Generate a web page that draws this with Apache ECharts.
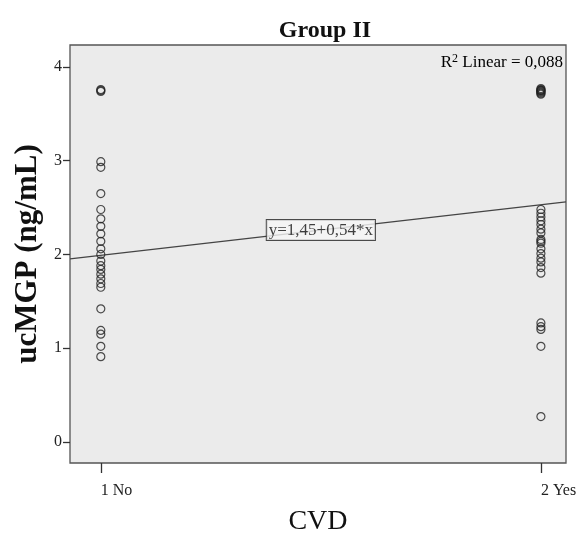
<!DOCTYPE html>
<html>
<head>
<meta charset="utf-8">
<script src="https://cdn.jsdelivr.net/npm/echarts@6/dist/echarts.min.js"></script>
<style>
  html, body { margin: 0; padding: 0; background: #fff; }
  #chart { width: 578px; height: 536px; }
</style>
</head>
<body>
<div id="chart"></div>
<script>
"use strict";

// ucMGP values, CVD = 1 (No)
var noValues = [3.76, 3.75, 3.74, 2.99, 2.93, 2.65, 2.48, 2.38, 2.30, 2.22, 2.14, 2.06, 2.00,
  1.93, 1.88, 1.84, 1.79, 1.74, 1.69, 1.65, 1.42, 1.19, 1.15, 1.02, 0.91];
// ucMGP values, CVD = 2 (Yes)
var yesValues = [3.77, 3.76, 3.75, 3.75, 3.74, 3.73, 3.72, 3.71, 2.48, 2.44, 2.40, 2.36, 2.32,
  2.27, 2.23, 2.16, 2.14, 2.12, 2.06, 2.01, 1.96, 1.92, 1.86, 1.80, 1.27, 1.23, 1.20, 1.02, 0.27];

var xTickLabels = { 1: '1 No', 2: '2 Yes' };
var yTicks = [0, 1, 2, 3, 4];

// fit line as printed on the chart
var fitIntercept = 1.45;
var fitSlope = 0.54;
var fitText = 'y=1,45+0,54*x';
var r2Value = '0,088';

var xMin = 0.93, xMax = 2.057;
var yMin = -0.225, yMax = 4.235;

var serif = 'Liberation Serif';

var points = [];
noValues.forEach(function (v) { points.push([1, v]); });
yesValues.forEach(function (v) { points.push([2, v]); });

var chart = echarts.init(document.getElementById('chart'));

var option = {
  animation: false,
  title: {
    text: 'Group II',
    left: 320,
    top: 14,
    textAlign: 'center',
    textStyle: { fontFamily: serif, fontWeight: 'bold', fontSize: 24, color: '#111' }
  },
  grid: {
    left: 70, right: 12, top: 45, bottom: 73,
    outerBoundsMode: 'none',
    containLabel: false,
    show: true,
    backgroundColor: '#ebebeb',
    borderColor: '#555',
    borderWidth: 1.3
  },
  xAxis: {
    type: 'value',
    min: xMin,
    max: xMax,
    name: 'CVD',
    nameLocation: 'middle',
    nameGap: 45,
    nameTextStyle: { fontFamily: serif, fontSize: 28, color: '#111' },
    axisLine: { show: false, onZero: false },
    splitLine: { show: false },
    axisTick: { show: true, length: 10, customValues: [1, 2], lineStyle: { color: '#333', width: 1.3 } },
    axisLabel: {
      customValues: [1, 2],
      align: 'left',
      margin: 20,
      fontFamily: serif,
      fontSize: 16,
      color: '#222',
      formatter: function (v) { return xTickLabels[v] || ''; }
    }
  },
  yAxis: {
    type: 'value',
    min: yMin,
    max: yMax,
    name: 'ucMGP (ng/mL)',
    nameLocation: 'middle',
    nameGap: 25,
    nameRotate: 90,
    nameTextStyle: { fontFamily: serif, fontWeight: 'bold', fontSize: 31, color: '#111' },
    axisLine: { show: false, onZero: false },
    splitLine: { show: false },
    axisTick: { show: true, length: 7, customValues: yTicks, lineStyle: { color: '#333', width: 1.3 } },
    axisLabel: {
      customValues: yTicks,
      margin: 8,
      fontFamily: serif,
      fontSize: 16,
      color: '#222'
    }
  },
  graphic: [{
    type: 'text',
    right: 15,
    top: 53,
    style: {
      text: '{a|R}{s|2}{a| Linear = ' + r2Value + '}',
      rich: {
        a: { fontFamily: serif, fontSize: 17, color: '#222' },
        s: { fontFamily: serif, fontSize: 12, color: '#222', verticalAlign: 'top', padding: [0, 0, 8, 0] }
      }
    }
  }],
  series: [
    {
      type: 'scatter',
      data: points,
      symbol: 'circle',
      symbolSize: 8,
      itemStyle: { color: 'rgba(0,0,0,0)', borderColor: '#222', borderWidth: 1.2 },
      z: 3
    },
    {
      type: 'line',
      data: [[xMin, fitIntercept + fitSlope * xMin], [xMax, fitIntercept + fitSlope * xMax]],
      symbol: 'none',
      lineStyle: { color: '#444', width: 1.2 },
      z: 2
    },
    {
      type: 'scatter',
      data: [[1.5, fitIntercept + fitSlope * 1.5]],
      symbolSize: 0,
      z: 4,
      label: {
        show: true,
        position: 'inside',
        formatter: fitText,
        fontFamily: serif,
        fontSize: 17,
        color: '#111',
        backgroundColor: '#f6f6f6',
        borderColor: '#222',
        borderWidth: 1,
        padding: [2, 2, 1, 2]
      }
    }
  ]
};

chart.setOption(option);
</script>
</body>
</html>
